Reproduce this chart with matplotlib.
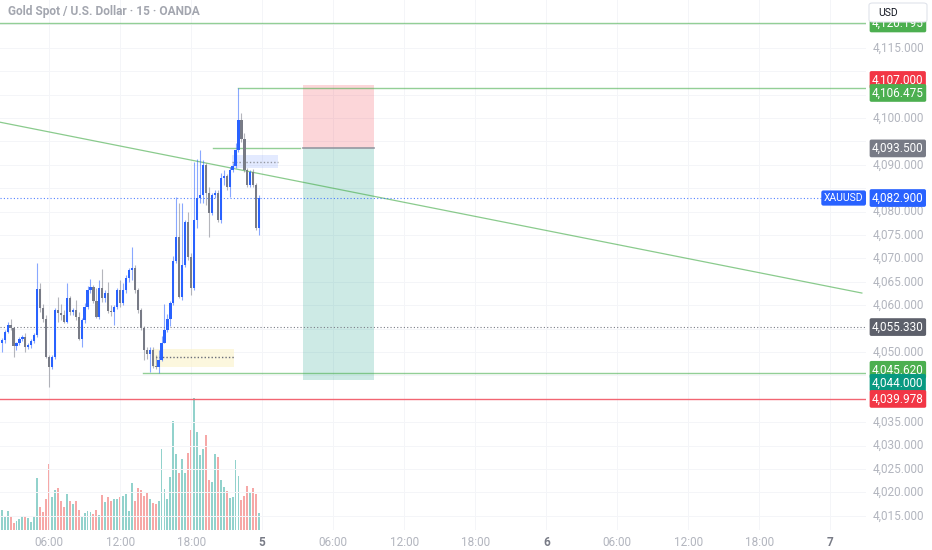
import numpy as np
import matplotlib
matplotlib.use('Agg')
import matplotlib.pyplot as plt
from matplotlib.patches import Rectangle, FancyBboxPatch

plt.rcParams['font.family'] = ['Roboto', 'DejaVu Sans']

# 15 min candles, XAUUSD (OANDA)
opens = [4051.9, 4052.6, 4054.3, 4055.8, 4055.1, 4051.3, 4051.9, 4052.8, 4053.3, 4051.1,
         4051.5, 4052.4, 4053.6, 4063.5, 4059.5, 4057.0, 4049.0, 4046.8, 4048.9, 4059.0,
         4058.3, 4057.9, 4056.4, 4061.5, 4058.5, 4059.0, 4057.5, 4052.8, 4056.8, 4059.6,
         4063.2, 4063.9, 4061.0, 4057.5, 4063.7, 4061.5, 4062.6, 4058.8, 4058.5, 4059.6,
         4063.2, 4060.4, 4063.2, 4065.8, 4067.5, 4068.0, 4063.2, 4059.0, 4055.1, 4050.4,
         4049.6, 4050.4, 4047.0, 4046.8, 4048.3, 4052.0, 4054.7, 4057.0, 4060.5, 4069.5,
         4074.6, 4061.8, 4068.6, 4077.8, 4070.3, 4063.7, 4078.2, 4082.9, 4083.5, 4090.0,
         4084.0, 4079.7, 4083.5, 4084.0, 4078.2, 4087.2, 4087.6, 4085.2, 4088.9, 4089.8,
         4093.2, 4099.6, 4095.5, 4088.9, 4085.7, 4088.5, 4085.7, 4076.5]
highs = [4053.0, 4054.8, 4056.4, 4057.0, 4055.3, 4052.2, 4053.2, 4053.6, 4054.1, 4051.9,
         4052.8, 4054.0, 4069.0, 4064.7, 4060.3, 4058.0, 4049.4, 4049.4, 4059.4, 4061.8,
         4060.3, 4059.0, 4064.7, 4062.0, 4059.4, 4061.1, 4058.5, 4057.2, 4060.4, 4064.2,
         4065.6, 4064.3, 4063.7, 4065.4, 4067.7, 4063.3, 4064.9, 4060.0, 4060.0, 4063.7,
         4065.4, 4064.7, 4066.5, 4068.0, 4072.4, 4068.6, 4063.7, 4059.5, 4055.5, 4051.0,
         4051.0, 4051.1, 4049.4, 4050.4, 4053.4, 4060.3, 4058.1, 4061.0, 4070.6, 4083.2,
         4081.8, 4081.8, 4078.2, 4079.9, 4071.2, 4090.6, 4091.2, 4093.2, 4091.0, 4090.3,
         4085.2, 4084.0, 4084.6, 4084.6, 4088.3, 4088.9, 4088.0, 4089.6, 4090.3, 4094.7,
         4106.475, 4101.1, 4096.8, 4089.4, 4088.9, 4089.0, 4086.2, 4083.5]
lows = [4050.0, 4052.0, 4054.0, 4054.6, 4049.0, 4050.4, 4051.5, 4052.4, 4050.0, 4050.7,
        4050.9, 4052.0, 4053.2, 4058.5, 4056.4, 4048.8, 4042.5, 4046.4, 4048.5, 4056.4,
        4056.8, 4056.2, 4056.2, 4057.9, 4058.0, 4056.8, 4052.6, 4051.1, 4056.2, 4059.2,
        4062.6, 4060.5, 4057.2, 4057.0, 4060.6, 4060.6, 4058.3, 4057.6, 4055.7, 4059.2,
        4059.6, 4060.0, 4062.6, 4064.9, 4065.4, 4062.6, 4058.3, 4054.6, 4048.3, 4048.6,
        4045.8, 4046.6, 4046.4, 4045.6, 4048.0, 4051.9, 4054.2, 4055.5, 4060.1, 4069.0,
        4061.5, 4061.1, 4068.2, 4069.6, 4062.2, 4063.2, 4076.5, 4081.8, 4081.8, 4081.4,
        4074.6, 4079.2, 4083.0, 4077.8, 4077.6, 4085.7, 4084.6, 4083.2, 4088.5, 4089.4,
        4092.8, 4094.9, 4088.5, 4085.2, 4085.2, 4085.2, 4076.1, 4074.9]
closes = [4052.6, 4054.3, 4055.8, 4055.1, 4051.3, 4051.9, 4052.8, 4053.3, 4051.1, 4051.5,
          4052.4, 4053.6, 4063.5, 4059.5, 4057.0, 4049.0, 4046.8, 4048.9, 4059.0, 4058.3,
          4057.9, 4056.4, 4061.5, 4058.5, 4059.0, 4057.5, 4052.8, 4056.8, 4059.6, 4063.2,
          4063.9, 4061.0, 4057.5, 4063.7, 4061.5, 4062.6, 4058.8, 4058.5, 4059.6, 4063.2,
          4060.4, 4063.2, 4065.8, 4067.5, 4068.0, 4063.2, 4059.0, 4055.1, 4050.4, 4049.6,
          4050.4, 4047.0, 4046.8, 4048.3, 4052.0, 4054.7, 4057.0, 4060.5, 4069.5, 4074.6,
          4061.8, 4068.6, 4077.8, 4070.3, 4063.7, 4078.2, 4082.9, 4083.5, 4090.0, 4084.0,
          4079.7, 4083.5, 4084.0, 4078.2, 4087.2, 4087.6, 4085.2, 4088.9, 4089.8, 4093.2,
          4099.6, 4095.5, 4088.9, 4085.7, 4088.5, 4085.7, 4076.5, 4082.9]
volumes = [60, 38, 56, 43, 20, 26, 32, 41, 43, 35,
           23, 39, 155, 68, 53, 93, 197, 98, 120, 126,
           88, 68, 108, 88, 78, 86, 60, 38, 50, 56,
           55, 47, 61, 45, 104, 84, 98, 86, 93, 93,
           98, 102, 108, 57, 142, 86, 125, 119, 101, 111,
           93, 80, 78, 86, 243, 123, 93, 160, 326, 226,
           171, 213, 171, 230, 298, 395, 293, 223, 241, 283,
           150, 143, 228, 218, 150, 128, 116, 95, 98, 210,
           161, 91, 103, 133, 113, 125, 108, 50]

tick_pos = [16, 40, 64, 88, 112, 136, 160, 184, 208, 232, 256, 280]
tick_labels = ['06:00', '12:00', '18:00', '5', '06:00', '12:00', '18:00', '6',
               '06:00', '12:00', '18:00', '7']

# drawings
trend_x = [-0.57, 290.6]
trend_y = [4099.1, 4062.6]
pos_x = [101.7, 125.8]
stop_price, entry_price, target_price = 4107.0, 4093.5, 4044.0
top_level = 4120.195
high_level, high_start = 4106.475, 79.8
mid_level, mid_x = 4093.5, [71.4, 100.8]
low_level, low_start = 4045.62, 47.8
red_level = 4039.978
last_price = 4082.9
dotted_level = 4055.33
blue_box_x, blue_box_y, blue_box_mid = [77.8, 93.3], [4089.3, 4092.1], 4090.6
yellow_box_x, yellow_box_y, yellow_box_mid = [50.8, 78.5], [4046.8, 4050.6], 4048.9

BLUE, GRAY = '#2962ff', '#787b86'
GREEN, RED, TEAL = '#4caf50', '#f23645', '#089981'
TXT = '#b2b5be'

W, H = 932, 550
fig = plt.figure(figsize=(W / 100, H / 100), dpi=100)
fig.patch.set_facecolor('white')

ax = fig.add_axes([0, 20 / H, 866 / W, 530 / H])
ylo, yhi = 4011.97, 4125.21
xlo, xhi = -0.574, 292.0
ax.set_xlim(xlo, xhi)
ax.set_ylim(ylo, yhi)

axv = ax.twinx()
axv.set_ylim(0, 1586)
axv.axis('off')
ax.set_zorder(axv.get_zorder() + 1)
ax.patch.set_visible(False)

for s in ax.spines.values():
    s.set_visible(False)
ax.set_yticks([])
ax.set_xticks(tick_pos)
ax.set_xticklabels(tick_labels)
ax.tick_params(axis='x', length=0, pad=4, labelsize=8.5, labelcolor=TXT)
for lbl in ax.get_xticklabels():
    if lbl.get_text() in ('5', '6', '7'):
        lbl.set_color('#787b86')
        lbl.set_fontweight('bold')

# faint grid
for t in tick_pos:
    ax.axvline(t, color='#f4f5f8', lw=0.7, zorder=0)
for p in range(4015, 4125, 5):
    ax.axhline(p, color='#f4f5f8', lw=0.7, zorder=0)

x = np.arange(len(opens))
o = np.array(opens)
c = np.array(closes)
up = c >= o

# volume
vcol = ['#26a69a' if u else '#ef5350' for u in up]
axv.bar(x, volumes, width=0.65, color=vcol, alpha=0.5, linewidth=0)

# candles
col = [BLUE if u else GRAY for u in up]
ax.vlines(x, lows, highs, colors=col, lw=0.8, alpha=0.55, zorder=3)
body_lo = np.minimum(o, c)
body_h = np.maximum(np.abs(c - o), 0.25)
ax.bar(x, body_h, bottom=body_lo, width=0.75, color=col, linewidth=0, zorder=4)

# position tool
ax.add_patch(Rectangle((pos_x[0], entry_price), pos_x[1] - pos_x[0], stop_price - entry_price,
                       fc=RED, alpha=0.2, ec='none', zorder=1))
ax.add_patch(Rectangle((pos_x[0], target_price), pos_x[1] - pos_x[0], entry_price - target_price,
                       fc=TEAL, alpha=0.2, ec='none', zorder=1))
ax.plot(pos_x, [entry_price, entry_price], color='#9598a1', lw=1.2, zorder=2)

# boxes
ax.add_patch(Rectangle((blue_box_x[0], blue_box_y[0]), blue_box_x[1] - blue_box_x[0],
                       blue_box_y[1] - blue_box_y[0], fc=BLUE, alpha=0.13, ec='none', zorder=1))
ax.plot(blue_box_x, [blue_box_mid] * 2, color='#9598a1', lw=1, ls=(0, (1, 1.5)), zorder=2)
ax.add_patch(Rectangle((yellow_box_x[0], yellow_box_y[0]), yellow_box_x[1] - yellow_box_x[0],
                       yellow_box_y[1] - yellow_box_y[0], fc='#fbf3c8', alpha=0.6, ec='none', zorder=1))
ax.plot(yellow_box_x, [yellow_box_mid] * 2, color='#6a6d78', lw=1, ls=(0, (1, 1.5)), zorder=2)

# lines
ax.plot(trend_x, trend_y, color=GREEN, lw=0.9, alpha=0.65, zorder=2)
ax.axhline(top_level, color=GREEN, lw=1, alpha=0.6, zorder=2)
ax.plot([high_start, xhi], [high_level] * 2, color=GREEN, lw=1, alpha=0.6, zorder=2)
ax.plot(mid_x, [mid_level] * 2, color=GREEN, lw=1, alpha=0.6, zorder=2)
ax.plot([low_start, xhi], [low_level] * 2, color=GREEN, lw=1, alpha=0.6, zorder=2)
ax.axhline(red_level, color=RED, lw=1, alpha=0.75, zorder=2)
ax.axhline(last_price, color=BLUE, lw=0.8, alpha=0.8, ls=(0, (1, 2)), zorder=2)
ax.axhline(dotted_level, color='#787b86', lw=0.8, ls=(0, (1, 2)), zorder=2)

ax.annotate('XAUUSD', xy=(0.997, last_price), xycoords=('axes fraction', 'data'),
            ha='right', va='center', color='white', fontsize=7.5,
            bbox=dict(boxstyle='round,pad=0.25,rounding_size=0.2', fc=BLUE, ec='none'), zorder=6)

fig.text(8 / W, 1 - 12 / H, 'Gold Spot / U.S. Dollar · 15 · OANDA', fontsize=8.6,
         fontweight='bold', color='#a3a6af', va='center', ha='left')

# price scale
axp = fig.add_axes([866 / W, 20 / H, 66 / W, 530 / H])
axp.set_xlim(0, 66)
axp.set_ylim(ylo, yhi)
axp.axis('off')

badges = [(top_level, GREEN), (stop_price, RED), (high_level, GREEN), (entry_price, GRAY),
          (last_price, BLUE), (dotted_level, '#5d606b'), (low_level, GREEN),
          (target_price, TEAL), (red_level, RED)]
px_per_unit = 530 / (yhi - ylo)
min_gap = 13 / px_per_unit

# group badges that would collide, then spread each group around its mean
badges = sorted(badges, key=lambda b: -b[0])
groups = [[badges[0]]]
for b in badges[1:]:
    if groups[-1][-1][0] - b[0] < min_gap:
        groups[-1].append(b)
    else:
        groups[-1] = groups[-1]
        groups.append([b])
placed = []
for g in groups:
    mean = sum(b[0] for b in g) / len(g)
    start = mean + min_gap * (len(g) - 1) / 2
    for k, b in enumerate(g):
        placed.append((b[0], b[1], start - k * min_gap))
# keep groups from overlapping each other
for k in range(1, len(placed)):
    if placed[k - 1][2] - placed[k][2] < min_gap:
        p, bc, _ = placed[k]
        placed[k] = (p, bc, placed[k - 1][2] - min_gap)

badge_y = [b[2] for b in placed]
for p in range(4015, 4125, 5):
    if min(abs(p - yb) for yb in badge_y) * px_per_unit < 11:
        continue
    axp.text(7, p, f'{p:,.3f}', fontsize=8.5, color=TXT, va='center', ha='left', zorder=1)

for price, bc, yb in placed:
    axp.text(6, yb, f'{price:,.3f}', fontsize=8.5, color='white', va='center', ha='left', zorder=5,
             bbox=dict(boxstyle='round,pad=0.2,rounding_size=0.15', fc=bc, ec='none'))

# currency box
fig.patches.append(FancyBboxPatch((869 / W, 1 - 22 / H), 58 / W, 19 / H,
                                  boxstyle='round,pad=0,rounding_size=0.004',
                                  transform=fig.transFigure, fc='white', ec='#e0e3eb', lw=0.8, zorder=10))
fig.text(878 / W, 1 - 12.5 / H, 'USD', fontsize=7.5, color='#131722', va='center', ha='left', zorder=11)

fig.savefig('out.png', dpi=100, facecolor='white')
